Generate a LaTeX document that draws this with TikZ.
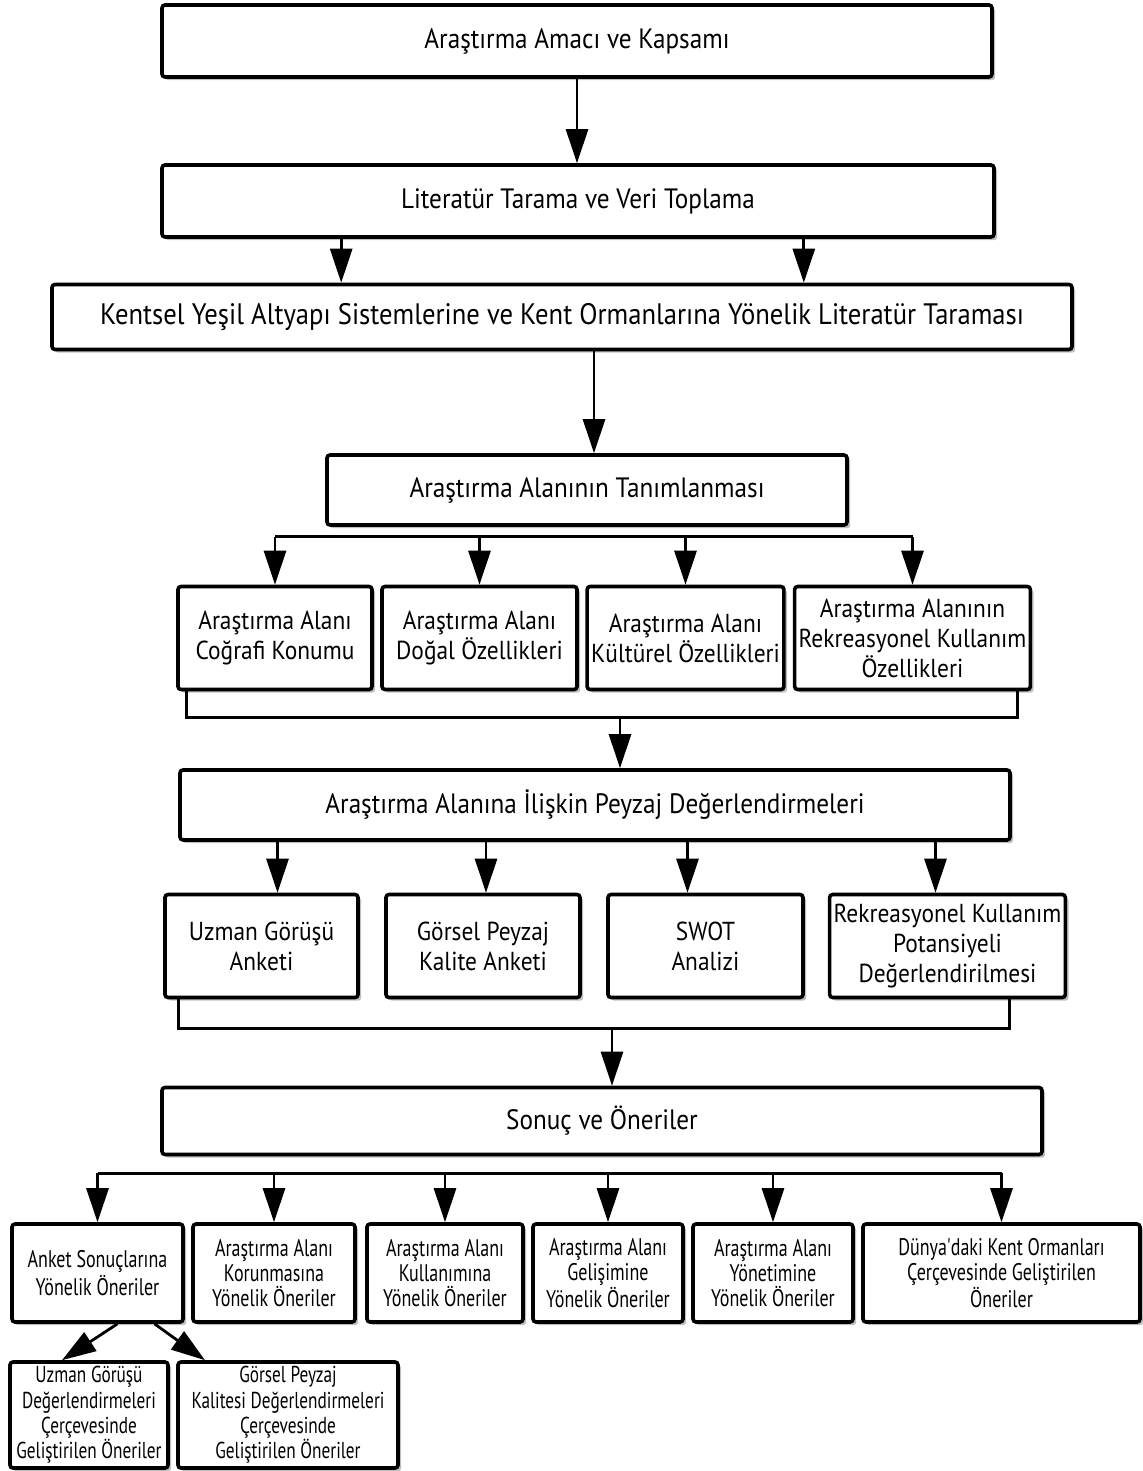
\documentclass[tikz,border=0pt]{standalone}
\usepackage{fontspec}
\setmainfont{PT Sans}[FakeStretch=0.9]
\newfontfamily\narrowfont{PT Sans}[FakeStretch=0.75]
\usetikzlibrary{positioning,arrows.meta,calc,shadows}
\tikzset{
	box/.style      = {shape=rectangle, draw, line width=1.8pt, fill=white,
		rounded corners=1.5pt, align=center, inner sep=2pt,
		drop shadow={shadow xshift=1.6pt, shadow yshift=-1.6pt, opacity=0.5},
		font=\fontsize{14}{17}\selectfont},
	mainbox/.style  = {box, minimum height=36pt},
	subbox/.style   = {box, minimum height=51.5pt, font=\fontsize{13}{15}\selectfont},
	recbox/.style   = {box, minimum height=49pt, font=\narrowfont\fontsize{12}{12.5}\selectfont},
	oneribox/.style = {recbox, minimum height=53pt, font=\narrowfont\fontsize{11.5}{12.7}\selectfont},
	arr/.style      = {line width=1.4pt, -{Triangle[length=17pt,width=11pt]}},
	bus/.style      = {line width=1.4pt}
}

\begin{document}
\begin{tikzpicture}[x=0.5pt,y=-0.5pt]
\useasboundingbox (0,0) rectangle (1143,1471);
% main steps
\node [mainbox, minimum width=415pt] (amac) at (577,41) {Araştırma Amacı ve Kapsamı};
\node [mainbox, minimum width=416pt] (lit) at (578,201) {Literatür Tarama ve Veri Toplama};
\node [mainbox, minimum width=510pt, minimum height=32.5pt,
       font=\fontsize{14.8}{17}\selectfont] (tarama) at (562,317)
      {Kentsel Yeşil Altyapı Sistemlerine ve Kent Ormanlarına Yönelik Literatür Taraması};
\node [mainbox, minimum width=260pt, minimum height=35pt] (tanim) at (587,490)
      {Araştırma Alanının Tanımlanması};

\draw [arr] (amac.south) -- (amac.south |- lit.north);
\path ([xshift=90.5pt]lit.south west) coordinate (l1)
      ([xshift=-96pt]lit.south east) coordinate (l2);
\draw [arr] (l1) -- (l1 |- tarama.north);
\draw [arr] (l2) -- (l2 |- tarama.north);
\draw [arr] ([xshift=16pt]tarama.south) -- ([xshift=16pt]tarama.south |- tanim.north);

% study area
\node [subbox, minimum width=97pt] (cog) at (275,638) {Araştırma Alanı\\Coğrafi Konumu};
\node [subbox, minimum width=97.5pt] (dog) at (479.5,638) {Araştırma Alanı\\Doğal Özellikleri};
\node [subbox, minimum width=97.5pt] (kul) at (685.5,638) {Araştırma Alanı\\Kültürel Özellikleri};
\node [subbox, minimum width=117.5pt] (rek) at (912.5,638)
      {Araştırma Alanının\\Rekreasyonel Kullanım\\Özellikleri};

\coordinate (t4) at ($(tanim.south)+(0,10)$);
\draw [bus] (cog.north |- t4) -- (rek.north |- t4);
\foreach \n in {cog,dog,kul,rek}
  \draw [arr] (\n.north |- t4) -- (\n.north);

\node [mainbox, minimum width=415pt, minimum height=35pt] (peyzaj) at (595,805)
      {Araştırma Alanına İlişkin Peyzaj Değerlendirmeleri};
\coordinate (j5) at (620,716);
\draw [bus] ([xshift=5pt]cog.south west) -- ++(0,26) -| ([xshift=-7.5pt]rek.south east);
\draw [arr] (j5) -- (j5 |- peyzaj.north);

% evaluations
\node [subbox, minimum width=96.5pt] (uzman) at (261.5,946) {Uzman Görüşü\\Anketi};
\node [subbox, minimum width=97pt] (gorsel) at (483,946) {Görsel Peyzaj\\Kalite Anketi};
\node [subbox, minimum width=97.5pt] (swot) at (705.5,946) {SWOT\\Analizi};
\node [subbox, minimum width=117.5pt] (potansiyel) at (947.5,946)
      {Rekreasyonel Kullanım\\Potansiyeli\\Değerlendirilmesi};

\foreach \n/\dx in {uzman/8, gorsel/1.5, swot/-9, potansiyel/-6}{
  \path ([xshift=\dx pt]\n.north) coordinate (p\n);
  \draw [arr] (p\n |- peyzaj.south) -- (p\n);
}

\node [mainbox, minimum width=440pt, minimum height=33.5pt] (sonuc) at (602,1121)
      {Sonuç ve Öneriler};
\coordinate (j6) at (612,1027);
\draw [bus] ([xshift=7.5pt]uzman.south west) -- ++(0,29) -| ([xshift=-29pt]potansiyel.south east);
\draw [arr] (j6) -- (j6 |- sonuc.north);

% recommendations
\node [recbox, minimum width=85.5pt] (anket) at (97.5,1273) {Anket Sonuçlarına\\Yönelik Öneriler};
\node [recbox, minimum width=81pt] (koruma) at (274,1273) {Araştırma Alanı\\Korunmasına\\Yönelik Öneriler};
\node [recbox, minimum width=78pt] (kullanim) at (445,1273) {Araştırma Alanı\\Kullanımına\\Yönelik Öneriler};
\node [recbox, minimum width=75pt] (gelisim) at (608,1273) {Araştırma Alanı\\Gelişimine\\Yönelik Öneriler};
\node [recbox, minimum width=80pt] (yonetim) at (773,1273) {Araştırma Alanı\\Yönetimine\\Yönelik Öneriler};
\node [recbox, minimum width=138.5pt] (dunya) at (1001.5,1273)
      {Dünya'daki Kent Ormanları\\Çerçevesinde Geliştirilen\\Öneriler};

\coordinate (t6) at ($(sonuc.south)+(0,17)$);
\draw [bus] (anket.north |- t6) -- (dunya.north |- t6);
\foreach \n in {anket,koruma,kullanim,gelisim,yonetim,dunya}
  \draw [arr] (\n.north |- t6) -- (\n.north);

\node [oneribox, minimum width=79pt] (uzmanoneri) at (89,1415)
      {Uzman Görüşü\\Değerlendirmeleri\\Çerçevesinde\\Geliştirilen Öneriler};
\node [oneribox, minimum width=110pt] (gorseloneri) at (288,1415)
      {Görsel Peyzaj\\Kalitesi Değerlendirmeleri\\Çerçevesinde\\Geliştirilen Öneriler};

\draw [arr] ([xshift=10pt]anket.south) -- ([xshift=-13.5pt]uzmanoneri.north);
\draw [arr] ([xshift=28.5pt]anket.south) -- ([xshift=-41.5pt]gorseloneri.north);
\end{tikzpicture}
\end{document}
